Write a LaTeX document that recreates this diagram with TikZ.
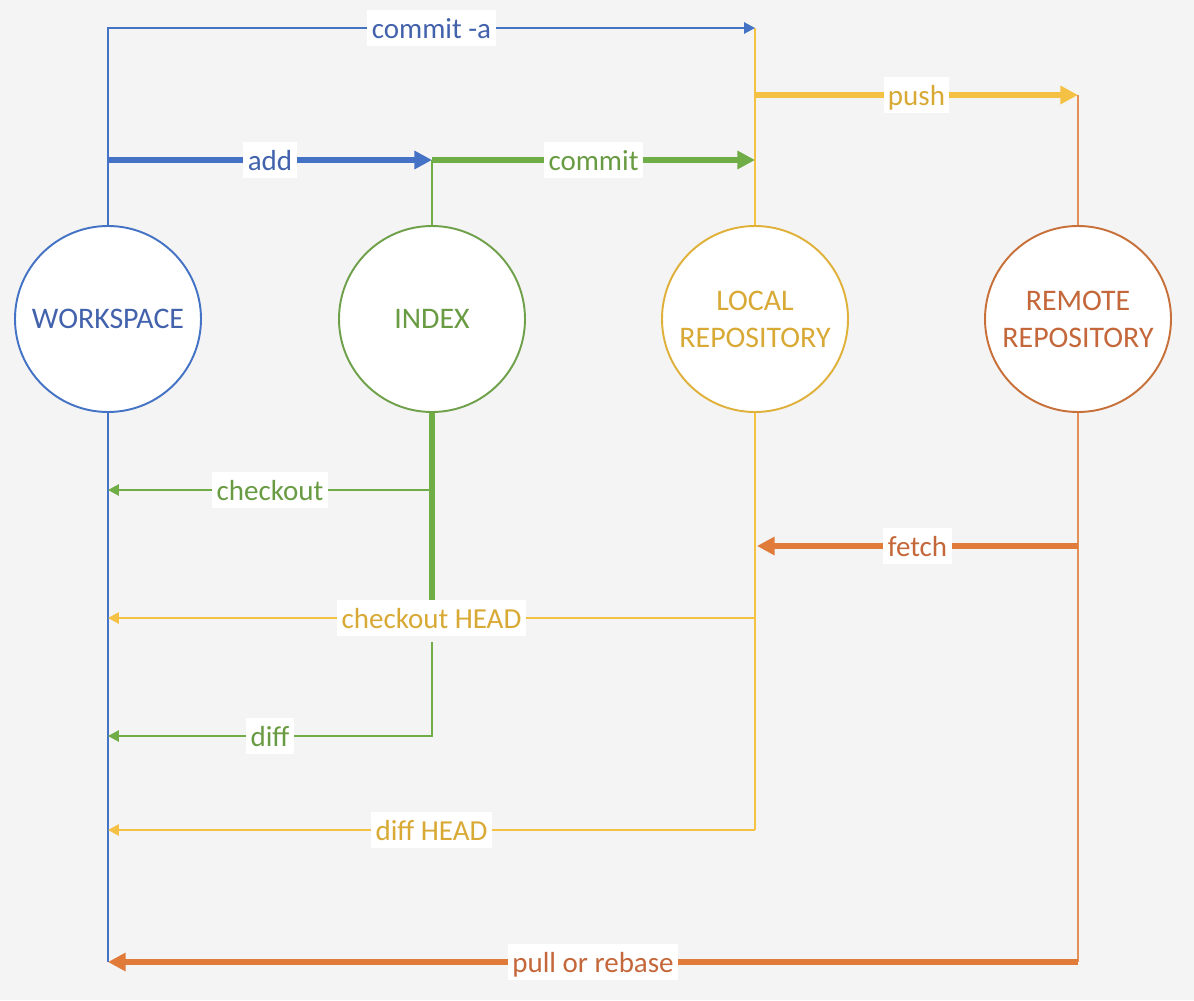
\documentclass[tikz,border=0pt]{standalone}
\usepackage{fontspec}
\setmainfont{Carlito}
\usetikzlibrary{arrows.meta}
\definecolor{Canvas}{HTML}{F4F4F4}
\definecolor{WsBlue}{HTML}{4472C4}
\definecolor{WsText}{HTML}{4262AC}
\definecolor{IdxGreen}{HTML}{70AD47}
\definecolor{IdxEdge}{HTML}{6FA04A}
\definecolor{IdxText}{HTML}{699B43}
\definecolor{LocGold}{HTML}{F4C145}
\definecolor{LocEdge}{HTML}{E0B13A}
\definecolor{LocText}{HTML}{D8A934}
\definecolor{RemOrange}{HTML}{E07B3A}
\definecolor{RemEdge}{HTML}{C8703A}
\definecolor{RemText}{HTML}{C4673A}

\begin{document}
\begin{tikzpicture}[x=0.2mm,y=-0.2mm,
  area/.style={circle,minimum size=37.2mm,inner sep=0pt,fill=white,line width=1.1pt,font=\fontsize{17}{21}\selectfont,align=center},
  cmd/.style={fill=white,inner xsep=2.5pt,inner ysep=0.5pt,text height=15.4pt,text depth=3.6pt,font=\fontsize{16.5}{19}\selectfont},
  flow/.style={line width=1.1pt},
  bigflow/.style={line width=3pt},
  tipflow/.style={-{Triangle[length=6.2pt,width=6.4pt]}},
  tipbig/.style={-{Triangle[length=10pt,width=10pt]}}]
\fill[Canvas] (0,0) rectangle (1194,1000);
\useasboundingbox (0,0) rectangle (1194,1000);
% the four areas
\node[area,draw=WsBlue,text=WsText] (ws) at (108,319) {WORKSPACE};
\node[area,draw=IdxEdge,text=IdxText] (idx) at (432,319) {INDEX};
\node[area,draw=LocEdge,text=LocText] (loc) at (755,319) {LOCAL\\REPOSITORY};
\node[area,draw=RemEdge,text=RemText] (rem) at (1078,319) {REMOTE\\REPOSITORY};
% junctions
\coordinate (wsAdd) at (108,160);
\coordinate (wsOut) at (108,490);
\coordinate (wsHead) at (108,618);
\coordinate (wsDiff) at (108,736);
\coordinate (wsDiffHead) at (108,830);
\coordinate (wsBot) at (108,962);
\coordinate (idxUp) at (432,160);
\coordinate (idxOut) at (432,490);
\coordinate (idxHead) at (432,618);
\coordinate (idxLow) at (432,642);
\coordinate (locTop) at (755,28);
\coordinate (locPush) at (755,95);
\coordinate (locUp) at (755,160);
\coordinate (locFetch) at (757,546);
\coordinate (locHead) at (755,618);
\coordinate (locDiff) at (755,830);
\coordinate (remUp) at (1078,95);
\coordinate (remFetch) at (1078,546);
\coordinate (remPull) at (1078,962);
% upper part
\draw[flow,WsBlue] (ws.south) -- (wsBot);
\draw[flow,IdxGreen] (idx.north) -- (idxUp);
\draw[flow,LocGold] (loc.north) -- (locTop);
\draw[flow,RemOrange!85!white] (rem.north) -- (remUp);
\draw[flow,tipflow,WsBlue] (ws.north) |- node[cmd,pos=0.75,text=WsText] (cCommitA) {commit -a} (locTop);
\draw[bigflow,tipbig,WsBlue] (wsAdd) -- node[cmd,text=WsText] (cAdd) {add} (idxUp);
\draw[bigflow,tipbig,IdxGreen] (idxUp) -- node[cmd,text=IdxText] (cCommit) {commit} (locUp);
\draw[bigflow,tipbig,LocGold] (locPush) -- node[cmd,text=LocText] (cPush) {push} (remUp);
% lower part
\draw[bigflow,IdxGreen] (idx.south) -- (idxHead);
\draw[flow,LocGold] (loc.south) -- (locDiff);
\draw[flow,RemOrange!85!white] (rem.south) -- (remPull);
\draw[flow,tipflow,IdxGreen] (idxOut) -- node[cmd,text=IdxText] (cCheckout) {checkout} (wsOut);
\draw[bigflow,tipbig,RemOrange] (remFetch) -- node[cmd,text=RemText] (cFetch) {fetch} (locFetch);
\draw[flow,tipflow,LocGold] (locHead) -- node[cmd,text=LocText] (cCheckoutHead) {checkout HEAD} (wsHead);
\draw[flow,tipflow,IdxGreen] (idxLow) |- node[cmd,pos=0.75,text=IdxText] (cDiff) {diff} (wsDiff);
\draw[flow,tipflow,LocGold] (locDiff) -- node[cmd,text=LocText] (cDiffHead) {diff HEAD} (wsDiffHead);
\draw[bigflow,tipbig,RemOrange] (remPull) -- node[cmd,text=RemText] (cPull) {pull or rebase} (wsBot);
\end{tikzpicture}
\end{document}
